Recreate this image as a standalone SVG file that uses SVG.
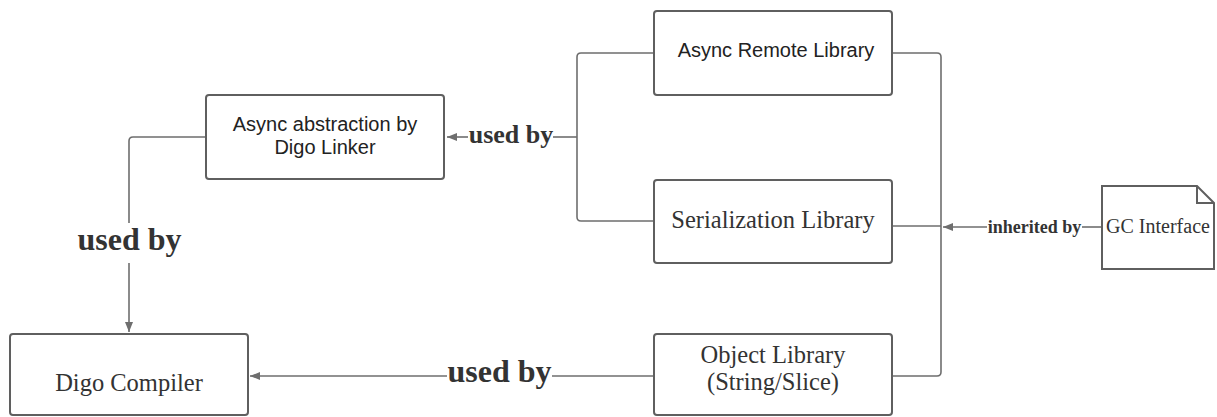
<svg xmlns="http://www.w3.org/2000/svg" width="1217" height="417" viewBox="0 0 1217 417">
<style>
.box{fill:#ffffff;stroke:#5f5f5f;stroke-width:2}
.edge{fill:none;stroke:#6e6e6e;stroke-width:1.6}
.sans{font-family:"Liberation Sans",Arial,sans-serif;font-size:20px;fill:#222222;text-anchor:middle}
.serif{font-family:"Liberation Serif","Times New Roman",serif;font-size:24.5px;fill:#333333;text-anchor:middle}
.lbl{font-family:"Liberation Serif","Times New Roman",serif;font-weight:bold;fill:#333333;text-anchor:middle}
</style>
<defs>
<marker id="arr" viewBox="0 0 10 8" refX="10" refY="4" markerWidth="10" markerHeight="8" markerUnits="userSpaceOnUse" orient="auto">
<path d="M0,0 L10,4 L0,8 Z" fill="#6e6e6e"/>
</marker>
</defs>
<rect width="1217" height="417" fill="#ffffff"/>
<g id="connectors">
<path class="edge" d="M654,53 H581 Q577,53 577,57 V217 Q577,221 581,221 H654"/>
<path class="edge" d="M577,137 H553"/>
<path class="edge" d="M468,137 H447" marker-end="url(#arr)"/>
<path class="edge" d="M205,137 H133 Q129,137 129,141 V223"/>
<path class="edge" d="M129,263 V332" marker-end="url(#arr)"/>
<path class="edge" d="M892,53 H937 Q941,53 941,57 V372 Q941,376 937,376 H892"/>
<path class="edge" d="M892,226 H941" stroke-width="2.4"/>
<path class="edge" d="M1102,227 H1082"/>
<path class="edge" d="M987,227 H943" marker-end="url(#arr)"/>
<path class="edge" d="M654,376 H552"/>
<path class="edge" d="M447,376 H250" marker-end="url(#arr)"/>
<text class="lbl" x="511" y="143" font-size="26">used by</text>
<text class="lbl" x="129.5" y="250" font-size="32">used by</text>
<text class="lbl" x="499.5" y="382" font-size="32">used by</text>
<text class="lbl" x="1034.5" y="233" font-size="18">inherited by</text>
</g>
<g id="async-remote">
<rect class="box" x="654" y="11" width="238" height="84" rx="3"/>
<text class="sans" x="776" y="57">Async Remote Library</text>
</g>
<g id="serialization">
<rect class="box" x="654" y="180" width="238" height="83" rx="3"/>
<text class="serif" x="773" y="228">Serialization Library</text>
</g>
<g id="async-abstraction">
<rect class="box" x="206" y="95" width="238" height="84" rx="3"/>
<text class="sans" x="325" y="131">Async abstraction by</text>
<text class="sans" x="325" y="154">Digo Linker</text>
</g>
<g id="digo-compiler">
<rect class="box" x="10" y="334" width="238" height="81" rx="3"/>
<text class="serif" x="129" y="391">Digo Compiler</text>
</g>
<g id="object-library">
<rect class="box" x="654" y="334" width="238" height="81" rx="3"/>
<text class="serif" x="773" y="363">Object Library</text>
<text class="serif" x="773" y="390">(String/Slice)</text>
</g>
<g id="gc-interface">
<path class="box" d="M1102,186 H1197 L1214,203 V269 H1102 Z"/>
<path fill="none" stroke="#5f5f5f" stroke-width="2" d="M1197,186 V203 H1214"/>
<text class="serif" x="1158" y="233" font-size="20" style="font-size:20px">GC Interface</text>
</g>
</svg>
